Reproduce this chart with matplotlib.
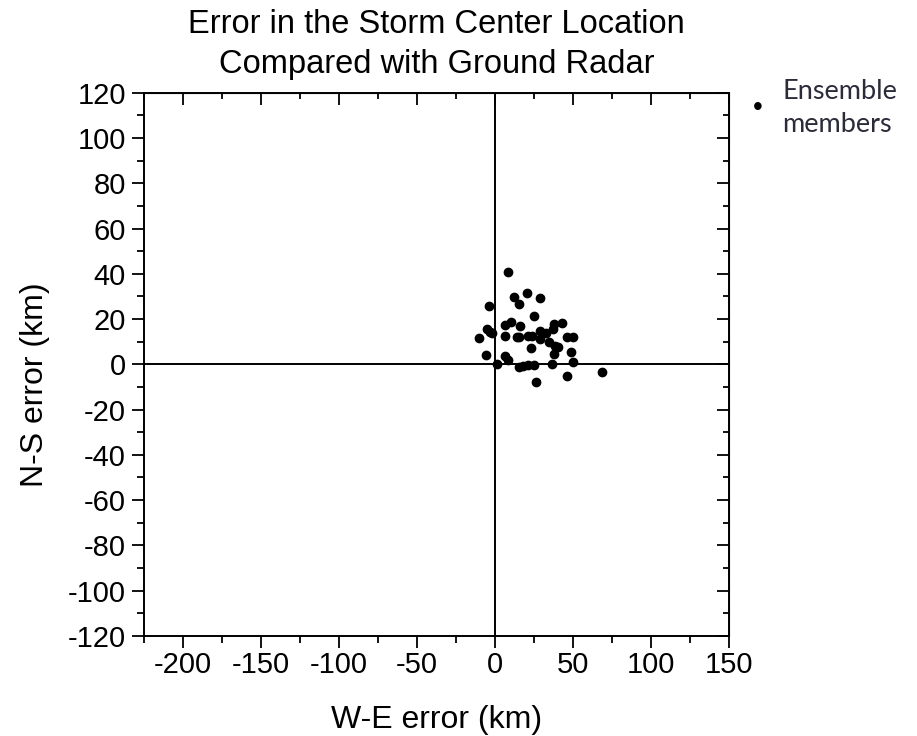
import matplotlib.pyplot as plt
from matplotlib.ticker import MultipleLocator

plt.rcParams['font.family'] = ['Liberation Sans', 'DejaVu Sans']
plt.rcParams['axes.unicode_minus'] = False

# ensemble member errors (km)
we_err = [8.5, 20.3, 12.2, 28.8, 15.6, -3.6, 25.0, 10.2, 6.4, 16.0,
          42.7, 37.8, 37.3, -5.3, -3.2, -1.9, -10.2, 6.4, 13.9, 15.2,
          21.3, 23.5, 28.8, 28.8, 32.7, 46.3, 49.7, 34.8, 38.4, 40.1,
          22.8, 37.8, 48.4, -5.8, 6.4, 8.5, 50.1, 36.3, 1.5, 15.6,
          18.1, 21.3, 25.0, 68.9, 45.9, 26.2]
ns_err = [40.6, 31.7, 29.8, 29.2, 26.8, 25.8, 21.2, 18.7, 17.5, 16.9,
          18.2, 17.9, 15.7, 15.7, 14.2, 13.9, 11.7, 12.4, 12.0, 12.0,
          12.7, 12.7, 14.7, 11.4, 13.9, 12.0, 12.0, 9.9, 8.0, 7.7,
          7.0, 4.7, 5.3, 4.0, 3.6, 1.8, 1.2, 0.3, 0.0, -1.2,
          -0.6, -0.1, -0.4, -3.4, -5.3, -7.9]

fig = plt.figure(figsize=(9.17, 7.36), dpi=100)
ax = fig.add_axes([0.157, 0.136, 0.638, 0.738])

ax.axhline(0, color='black', lw=1.4, zorder=1)
ax.axvline(0, color='black', lw=1.4, zorder=1)
ax.scatter(we_err, ns_err, s=36, color='black', zorder=3)

ax.set_xlim(-225, 150)
ax.set_ylim(-120, 120)
ax.xaxis.set_major_locator(MultipleLocator(50))
ax.xaxis.set_minor_locator(MultipleLocator(25))
ax.yaxis.set_major_locator(MultipleLocator(20))
ax.yaxis.set_minor_locator(MultipleLocator(10))
ax.tick_params(which='major', direction='out', length=8.5, width=1.3,
               labelsize=21, pad=4.5)
ax.tick_params(which='minor', direction='out', length=5, width=1.3)
ax.tick_params(axis='x', which='major', pad=2.5)

for side in ['top', 'right']:
    if side == 'top':
        sec = ax.secondary_xaxis('top')
        sec.xaxis.set_major_locator(MultipleLocator(50))
        sec.xaxis.set_minor_locator(MultipleLocator(25))
    else:
        sec = ax.secondary_yaxis('right')
        sec.yaxis.set_major_locator(MultipleLocator(20))
        sec.yaxis.set_minor_locator(MultipleLocator(10))
    sec.tick_params(which='major', direction='in', length=8.5, width=1.3,
                    labeltop=False, labelright=False)
    sec.tick_params(which='minor', direction='in', length=4.5, width=1.3)

for sp in ax.spines.values():
    sp.set_linewidth(1.4)

ax.set_xlabel('W-E error (km)', fontsize=23)
ax.xaxis.set_label_coords(0.5, -0.127)
ax.set_ylabel('N-S error (km)', fontsize=23)
ax.yaxis.set_label_coords(-0.16, 0.462)
ax.set_title('Error in the Storm Center Location\nCompared with Ground Radar',
             fontsize=23.5, pad=14, linespacing=1.4)

# legend drawn beside the axes
fig.text(0.826, 0.853, '\u2022', fontsize=20, ha='center', va='center')
fig.text(0.853, 0.853, 'Ensemble\nmembers', fontsize=19.5, ha='left', va='center',
         family=['Lato', 'DejaVu Sans'], color='#2b2b3a', linespacing=1.4)

fig.savefig('out.png', dpi=100)
